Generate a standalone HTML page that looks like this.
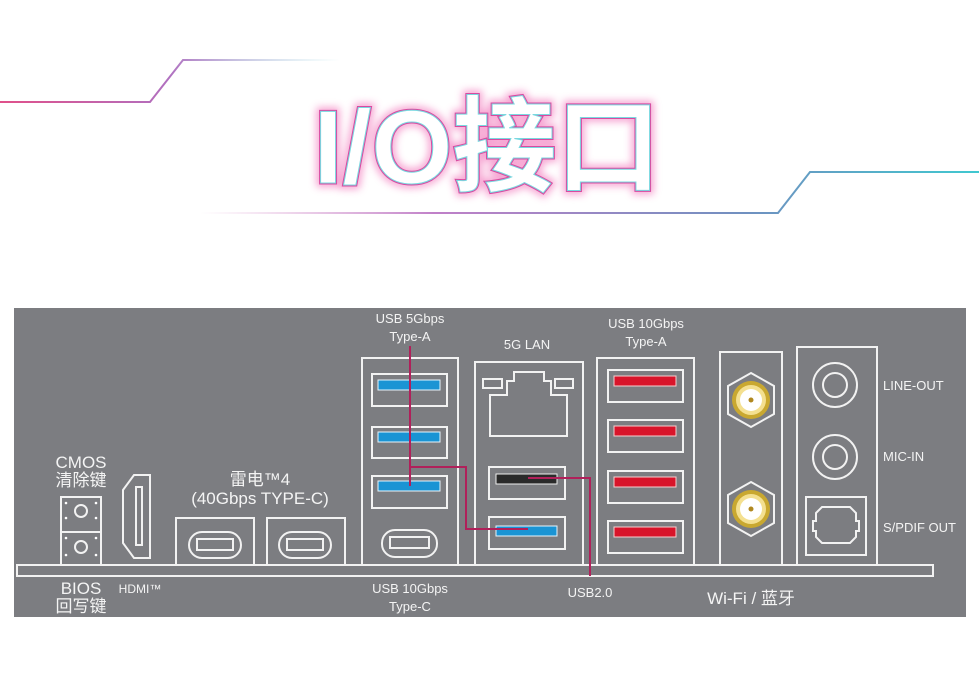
<!DOCTYPE html>
<html><head><meta charset="utf-8"><style>
html,body{margin:0;padding:0;background:#fff;width:979px;height:674px;overflow:hidden}
svg{display:block}
text{font-family:"Liberation Sans","Noto Sans CJK SC",sans-serif}
</style></head><body>
<svg width="979" height="674" viewBox="0 0 979 674">
<defs>
<linearGradient id="gl" x1="0" x2="1"><stop offset="0" stop-color="#e0508a"/><stop offset="0.5" stop-color="#b070c0"/><stop offset="1" stop-color="#8fd8e0" stop-opacity="0"/></linearGradient>
<linearGradient id="gr" x1="1" x2="0"><stop offset="0" stop-color="#40c8d0"/><stop offset="0.3" stop-color="#7090c0"/><stop offset="0.7" stop-color="#c080c8"/><stop offset="1" stop-color="#e0a0d0" stop-opacity="0"/></linearGradient>
<filter id="glow" x="-20%" y="-20%" width="140%" height="140%"><feGaussianBlur stdDeviation="4"/></filter>
</defs>
<!-- decorative lines -->
<path d="M0 102 L150 102 L183 60 L340 60" fill="none" stroke="url(#gl)" stroke-width="2"/>
<path d="M979 172 L810 172 L778 213 L200 213" fill="none" stroke="url(#gr)" stroke-width="2"/>
<!-- title -->
<text x="487" y="183" text-anchor="middle" font-size="104" font-weight="bold" fill="none" stroke="#f060b0" stroke-width="8" filter="url(#glow)" opacity="0.6">I/O接口</text>
<text x="487" y="183" text-anchor="middle" font-size="104" font-weight="bold" fill="#fff" stroke="#d84aa0" stroke-width="3">I/O接口</text>
<text x="487" y="183" text-anchor="middle" font-size="104" font-weight="bold" fill="#fff" stroke="#7ad8e0" stroke-width="1">I/O接口</text>
<!-- panel -->
<rect x="14" y="308" width="952" height="309" fill="#7c7d81"/>
<g fill="none" stroke="#f2f2f2" stroke-width="2">
<rect x="17" y="565" width="916" height="11"/>
<rect x="61" y="497" width="40" height="35"/><rect x="61" y="532" width="40" height="33"/>
<circle cx="81" cy="511" r="6"/><circle cx="81" cy="547" r="6"/>
<path d="M123 490 L134 475 L150 475 L150 558 L134 558 L123 543 Z"/>
<rect x="136" y="487" width="6" height="58"/>
<rect x="176" y="518" width="78" height="47"/><rect x="267" y="518" width="78" height="47"/>
<rect x="189" y="532" width="52" height="26" rx="13"/><rect x="279" y="532" width="52" height="26" rx="13"/>
<rect x="197" y="539" width="36" height="11"/><rect x="287" y="539" width="36" height="11"/>
<rect x="362" y="358" width="96" height="207"/>
<rect x="372" y="374" width="75" height="32"/><rect x="372" y="427" width="75" height="31"/><rect x="372" y="476" width="75" height="32"/>
<rect x="382" y="530" width="55" height="27" rx="13"/><rect x="390" y="537" width="39" height="11"/>
<rect x="475" y="362" width="108" height="203"/>
<path d="M490 436 L490 395 L507 395 L507 381 L514 381 L514 372 L544 372 L544 381 L551 381 L551 395 L567 395 L567 436 Z"/>
<rect x="483" y="379" width="19" height="9"/><rect x="555" y="379" width="18" height="9"/>
<rect x="489" y="467" width="76" height="32"/><rect x="489" y="517" width="76" height="32"/>
<rect x="597" y="358" width="97" height="207"/>
<rect x="608" y="370" width="75" height="32"/><rect x="608" y="420" width="75" height="32"/><rect x="608" y="471" width="75" height="32"/><rect x="608" y="521" width="75" height="32"/>
<rect x="720" y="352" width="62" height="213"/>
<rect x="797" y="347" width="80" height="218"/>
<circle cx="835" cy="385" r="22"/><circle cx="835" cy="385" r="12"/>
<circle cx="835" cy="457" r="22"/><circle cx="835" cy="457" r="12"/>
<rect x="806" y="497" width="60" height="58"/>
<path d="M816 513 L822 507 L850 507 L856 513 L856 521 L859 521 L859 531 L856 531 L856 537 L850 543 L822 543 L816 537 L816 531 L813 531 L813 521 L816 521 Z"/>
<polygon points="751,373 774,386 774,414 751,427 728,414 728,386"/>
<polygon points="751,482 774,495 774,523 751,536 728,523 728,495"/>
</g>
<g fill="#fff"><circle cx="66" cy="503" r="1.3"/><circle cx="96" cy="503" r="1.3"/><circle cx="66" cy="518" r="1.3"/><circle cx="96" cy="518" r="1.3"/><circle cx="66" cy="538" r="1.3"/><circle cx="96" cy="538" r="1.3"/><circle cx="66" cy="555" r="1.3"/><circle cx="96" cy="555" r="1.3"/></g>
<!-- colored port inserts -->
<g fill="#1a94d4" stroke="#e8f4fa" stroke-width="1"><rect x="378" y="380" width="62" height="10"/><rect x="378" y="432" width="62" height="10"/><rect x="378" y="481" width="62" height="10"/><rect x="496" y="526" width="61" height="10"/></g>
<rect x="496" y="474" width="61" height="10" fill="#2a2a2a" stroke="#eee" stroke-width="1"/>
<g fill="#d8142a" stroke="#f4d0d0" stroke-width="1"><rect x="614" y="376" width="62" height="10"/><rect x="614" y="426" width="62" height="10"/><rect x="614" y="477" width="62" height="10"/><rect x="614" y="527" width="62" height="10"/></g>
<!-- antennas -->
<g><circle cx="751" cy="400" r="19" fill="#c9a830"/><circle cx="751" cy="400" r="15" fill="#f4e090"/><circle cx="751" cy="400" r="11" fill="#fff"/><circle cx="751" cy="400" r="2.5" fill="#b08820"/>
<circle cx="751" cy="509" r="19" fill="#c9a830"/><circle cx="751" cy="509" r="15" fill="#f4e090"/><circle cx="751" cy="509" r="11" fill="#fff"/><circle cx="751" cy="509" r="2.5" fill="#b08820"/></g>
<!-- red leader lines -->
<g fill="none" stroke="#b0205a" stroke-width="2"><path d="M410 346 L410 486"/><path d="M410 467 L466 467 L466 529 L528 529"/><path d="M528 478 L590 478 L590 576"/></g>
<!-- labels -->
<g fill="#f4f4f4" font-size="13" text-anchor="middle">
<text x="410" y="323">USB 5Gbps</text><text x="410" y="341">Type-A</text>
<text x="527" y="349">5G LAN</text>
<text x="646" y="328">USB 10Gbps</text><text x="646" y="346">Type-A</text>
<text x="410" y="593">USB 10Gbps</text><text x="410" y="611">Type-C</text>
<text x="590" y="597">USB2.0</text>
<text x="751" y="604" font-size="17">Wi-Fi / 蓝牙</text>
<text x="81" y="468" font-size="17">CMOS</text><text x="81" y="486" font-size="17">清除键</text>
<text x="81" y="594" font-size="17">BIOS</text><text x="81" y="612" font-size="17">回写键</text>
<text x="260" y="485" font-size="17">雷电™4</text><text x="260" y="504" font-size="17">(40Gbps TYPE-C)</text>
<text x="140" y="593" font-size="12">HDMI™</text>
</g>
<g fill="#f4f4f4" font-size="13"><text x="883" y="390">LINE-OUT</text><text x="883" y="461">MIC-IN</text><text x="883" y="532">S/PDIF OUT</text></g>
</svg>
</body></html>
